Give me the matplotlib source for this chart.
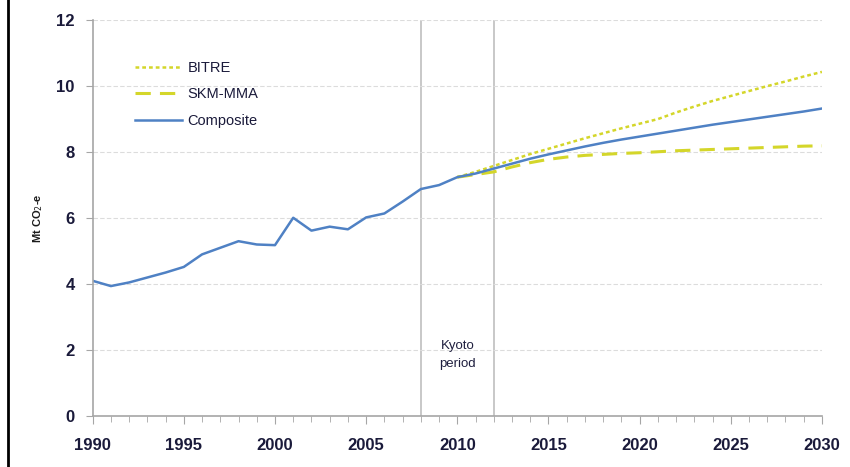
import matplotlib.pyplot as plt
from matplotlib.lines import Line2D
from matplotlib.ticker import MultipleLocator

plt.rcParams['font.family'] = ['Liberation Sans Narrow', 'Liberation Sans', 'DejaVu Sans']

# historical + composite projection
years = list(range(1990, 2031))
composite = [4.1, 3.94, 4.05, 4.2, 4.35, 4.52, 4.9, 5.1, 5.3, 5.2, 5.18,
             6.01, 5.62, 5.74, 5.66, 6.02, 6.14, 6.5, 6.88, 7.0, 7.24,
             7.35, 7.5, 7.65, 7.8, 7.93, 8.05, 8.17, 8.28, 8.38, 8.47,
             8.56, 8.65, 8.74, 8.83, 8.91, 8.99, 9.07, 9.15, 9.23, 9.32]

proj_years = list(range(2010, 2031))
bitre = [7.24, 7.4, 7.58, 7.76, 7.94, 8.1, 8.26, 8.42, 8.57, 8.72, 8.86,
         9.0, 9.2, 9.38, 9.55, 9.7, 9.85, 10.0, 10.14, 10.29, 10.43]
skm = [7.24, 7.32, 7.4, 7.55, 7.68, 7.78, 7.85, 7.9, 7.93, 7.96, 7.98,
       8.01, 8.04, 8.06, 8.08, 8.1, 8.12, 8.14, 8.16, 8.18, 8.19]

kyoto = [2008, 2012]
yellow = '#d4d62a'
blue = '#4f81c4'

fig = plt.figure(figsize=(8.5, 4.67), dpi=100)
ax = fig.add_axes([0.109, 0.109, 0.858, 0.848])

ax.plot(proj_years, bitre, color=yellow, lw=1.8, linestyle=(0, (1.5, 1.2)), label='BITRE')
ax.plot(proj_years, skm, color=yellow, lw=2.2, linestyle=(0, (5, 3)), label='SKM-MMA')
ax.plot(years, composite, color=blue, lw=1.8, label='Composite')

for k in kyoto:
    ax.axvline(k, color='#bfbfbf', lw=1.2, zorder=0)
ax.text(2010, 1.85, 'Kyoto\nperiod', ha='center', va='center', fontsize=9.5,
        color='#1f1f3f', linespacing=1.7)

ax.set_xlim(1990, 2030)
ax.set_ylim(0, 12)
ax.xaxis.set_major_locator(MultipleLocator(5))
ax.xaxis.set_minor_locator(MultipleLocator(1))
ax.yaxis.set_major_locator(MultipleLocator(2))
ax.grid(axis='y', color='#dcdcdc', lw=0.8, linestyle=(0, (4, 2)))
ax.set_axisbelow(True)

for s in ['top', 'right']:
    ax.spines[s].set_visible(False)
for s in ['left', 'bottom']:
    ax.spines[s].set_color('#a6a6a6')
    ax.spines[s].set_linewidth(1.2)

ax.tick_params(axis='x', which='major', length=6, color='#a6a6a6', labelsize=12,
               labelcolor='#1a1a3a', pad=10)
ax.tick_params(axis='x', which='minor', length=4, color='#a6a6a6')
ax.tick_params(axis='y', length=5, color='#a6a6a6', labelsize=12,
               labelcolor='#1a1a3a', pad=8)
for lab in ax.get_xticklabels() + ax.get_yticklabels():
    lab.set_fontweight('bold')

ax.set_ylabel('Mt CO$_2$-e', fontsize=8, fontweight='bold', labelpad=8, color='#1a1a1a')

ax.legend(loc='upper left', bbox_to_anchor=(0.04, 0.93), frameon=False,
          fontsize=10.5, handlelength=3.2, labelspacing=0.85, handletextpad=0.4)
for t in ax.get_legend().get_texts():
    t.set_color('#1a1a3a')

# left frame edge
fig.add_artist(Line2D([0.009, 0.009], [0, 1], color='black', lw=2, transform=fig.transFigure))

fig.savefig('out.png', dpi=100)
